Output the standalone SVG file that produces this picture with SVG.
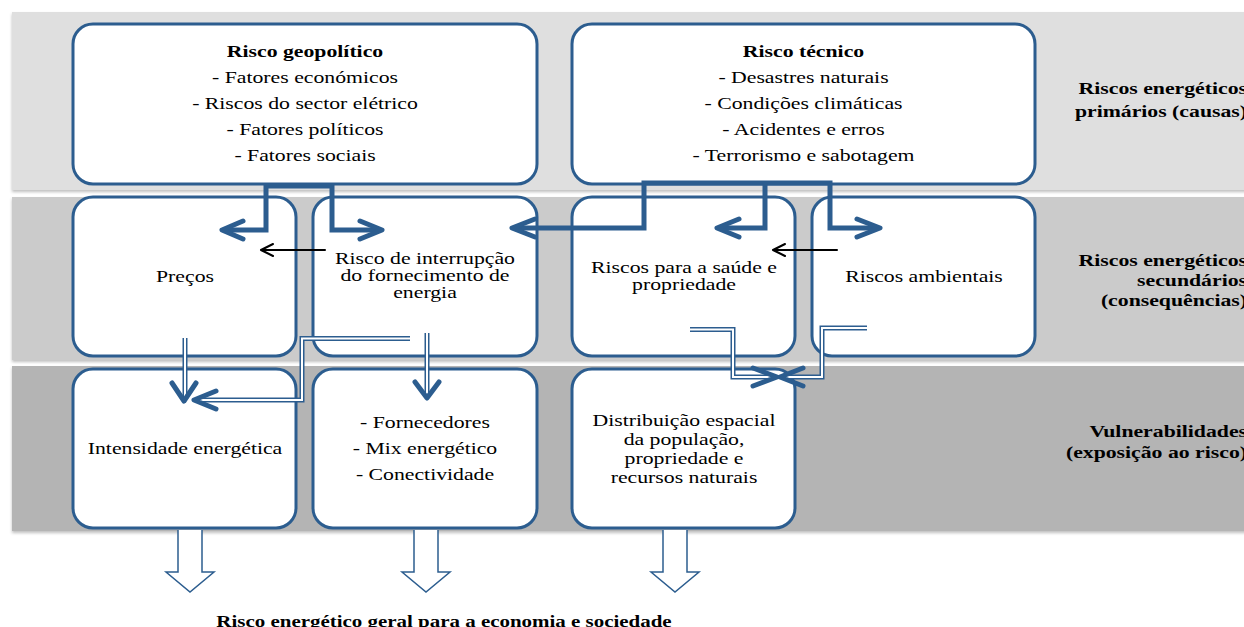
<svg xmlns="http://www.w3.org/2000/svg" width="1244" height="627" viewBox="0 0 1244 627">
<defs>
<filter id="sh" x="-5%" y="-5%" width="110%" height="115%">
<feDropShadow dx="0" dy="2" stdDeviation="1.5" flood-color="#000" flood-opacity="0.25"/>
</filter>
</defs>
<style>
.box{fill:#fff;stroke:#2c5d8f;stroke-width:3}
.t{font-family:"Liberation Serif","Times New Roman",serif;font-size:16px;fill:#000;text-anchor:middle}
.b{font-weight:bold}
.r{text-anchor:end}
.thick{fill:none;stroke:#2c5d8f;stroke-width:5;stroke-linejoin:miter}
.chev{fill:none;stroke:#2c5d8f;stroke-width:5;stroke-linecap:round;stroke-linejoin:round}
.dblo{fill:none;stroke:#2c5d8f;stroke-width:5}
.dbli{fill:none;stroke:#fff;stroke-width:2}
.blk{fill:none;stroke:#000;stroke-width:2;stroke-linecap:round;stroke-linejoin:round}
.blockarrow{fill:#fff;stroke:#2c5d8f;stroke-width:1.5}
</style>
<rect width="1244" height="627" fill="#fff"/>
<g id="bands">
<rect x="12" y="12" width="1240" height="178" fill="#dfdfdf" filter="url(#sh)"/>
<rect x="12" y="197" width="1240" height="163" fill="#cbcbcb" filter="url(#sh)"/>
<rect x="12" y="366" width="1240" height="165" fill="#b4b4b4" filter="url(#sh)"/>
</g>
<g id="layer-primarios">
<text class="t b r" transform="matrix(1.36 0 0 1 1247 0)"><tspan x="0" y="94">Riscos energéticos</tspan><tspan x="0" y="117">primários (causas)</tspan></text>
</g>
<g id="layer-secundarios">
<text class="t b r" transform="matrix(1.36 0 0 1 1247 0)"><tspan x="0" y="266">Riscos energéticos</tspan><tspan x="0" y="286">secundários</tspan><tspan x="0" y="306">(consequências)</tspan></text>
</g>
<g id="layer-vulnerabilidades">
<text class="t b r" transform="matrix(1.36 0 0 1 1247 0)"><tspan x="0" y="437">Vulnerabilidades</tspan><tspan x="0" y="458">(exposição ao risco)</tspan></text>
</g>
<g id="node-geopolitico">
<rect class="box" x="73" y="24" width="464" height="160" rx="20"/>
<text class="t" transform="matrix(1.36 0 0 1 305 0)"><tspan class="b" x="0" y="57">Risco geopolítico</tspan><tspan x="0" y="83">- Fatores económicos</tspan><tspan x="0" y="109">- Riscos do sector elétrico</tspan><tspan x="0" y="135">- Fatores políticos</tspan><tspan x="0" y="161">- Fatores sociais</tspan></text>
</g>
<g id="node-tecnico">
<rect class="box" x="572" y="24" width="463" height="160" rx="20"/>
<text class="t" transform="matrix(1.36 0 0 1 803.5 0)"><tspan class="b" x="0" y="57">Risco técnico</tspan><tspan x="0" y="83">- Desastres naturais</tspan><tspan x="0" y="109">- Condições climáticas</tspan><tspan x="0" y="135">- Acidentes e erros</tspan><tspan x="0" y="161">- Terrorismo e sabotagem</tspan></text>
</g>
<g id="node-precos">
<rect class="box" x="73" y="197" width="223" height="159" rx="20"/>
<text class="t" transform="matrix(1.36 0 0 1 185 0)"><tspan x="0" y="282">Preços</tspan></text>
</g>
<g id="node-interrupcao">
<rect class="box" x="313" y="197" width="224" height="159" rx="20"/>
<text class="t" transform="matrix(1.36 0 0 1 425 0)"><tspan x="0" y="264">Risco de interrupção</tspan><tspan x="0" y="281">do fornecimento de</tspan><tspan x="0" y="298">energia</tspan></text>
</g>
<g id="node-saude">
<rect class="box" x="572" y="197" width="223" height="159" rx="20"/>
<text class="t" transform="matrix(1.36 0 0 1 684 0)"><tspan x="0" y="273">Riscos para a saúde e</tspan><tspan x="0" y="290">propriedade</tspan></text>
</g>
<g id="node-ambientais">
<rect class="box" x="812" y="197" width="223" height="159" rx="20"/>
<text class="t" transform="matrix(1.36 0 0 1 924 0)"><tspan x="0" y="282">Riscos ambientais</tspan></text>
</g>
<g id="node-intensidade">
<rect class="box" x="73" y="369" width="223" height="159" rx="20"/>
<text class="t" transform="matrix(1.36 0 0 1 185 0)"><tspan x="0" y="454">Intensidade energética</tspan></text>
</g>
<g id="node-fornecedores">
<rect class="box" x="313" y="369" width="224" height="159" rx="20"/>
<text class="t" transform="matrix(1.36 0 0 1 425 0)"><tspan x="0" y="428">- Fornecedores</tspan><tspan x="0" y="454">- Mix energético</tspan><tspan x="0" y="480">- Conectividade</tspan></text>
</g>
<g id="node-distribuicao">
<rect class="box" x="572" y="369" width="223" height="159" rx="20"/>
<text class="t" transform="matrix(1.36 0 0 1 684 0)"><tspan x="0" y="426">Distribuição espacial</tspan><tspan x="0" y="445">da população,</tspan><tspan x="0" y="464">propriedade e</tspan><tspan x="0" y="483">recursos naturais</tspan></text>
</g>
<g id="node-geral">
<text class="t b" transform="matrix(1.31 0 0 1 444 0)"><tspan x="0" y="627">Risco energético geral para a economia e sociedade</tspan></text>
</g>
<g id="connectors">
<path class="thick" d="M226,230 H266 V186 H332 V230 H378"/>
<path class="chev" d="M243,221 L222,230 L243,239"/>
<path class="chev" d="M360,221 L382,230 L360,239"/>
<path class="thick" d="M516,228 H644 V183 H830 V228 H876"/>
<path class="thick" d="M765,183 V228 H721"/>
<path class="chev" d="M535,219 L512,228 L535,237"/>
<path class="chev" d="M739,219 L717,228 L739,237"/>
<path class="chev" d="M857,219 L880,228 L857,237"/>
<path class="blk" d="M325,250 H262"/>
<path class="blk" d="M273,244 L261,250 L273,256"/>
<path class="blk" d="M837,250 H774"/>
<path class="blk" d="M785,244 L773,250 L785,256"/>
<path class="dblo" d="M185,338 V397"/>
<path class="dbli" d="M185,338 V397"/>
<path class="dblo" d="M410,338.5 H302 V400 H200"/>
<path class="dbli" d="M410,338.5 H302 V400 H200"/>
<path class="dblo" d="M427,333 V394"/>
<path class="dbli" d="M427,333 V394"/>
<path class="dblo" d="M690,329.5 H733 V377 H771"/>
<path class="dbli" d="M690,329.5 H733 V377 H771"/>
<path class="dblo" d="M867,328 H822 V377 H786"/>
<path class="dbli" d="M867,328 H822 V377 H786"/>
<path class="chev" d="M172,383 L184,401 L196,383"/>
<path class="chev" d="M216,391 L194,400 L216,409"/>
<path class="chev" d="M415,382 L427,398 L439,382"/>
<path class="chev" d="M753,368 L777,377 L753,386"/>
<path class="chev" d="M803,368 L780,377 L803,386"/>
<path class="blockarrow" d="M178,530 V572 H166 L190,592 L214,572 H202 V530"/>
<path class="blockarrow" d="M414,530 V572 H402 L426,592 L450,572 H438 V530"/>
<path class="blockarrow" d="M663,530 V572 H651 L675,592 L699,572 H687 V530"/>
</g>
</svg>
